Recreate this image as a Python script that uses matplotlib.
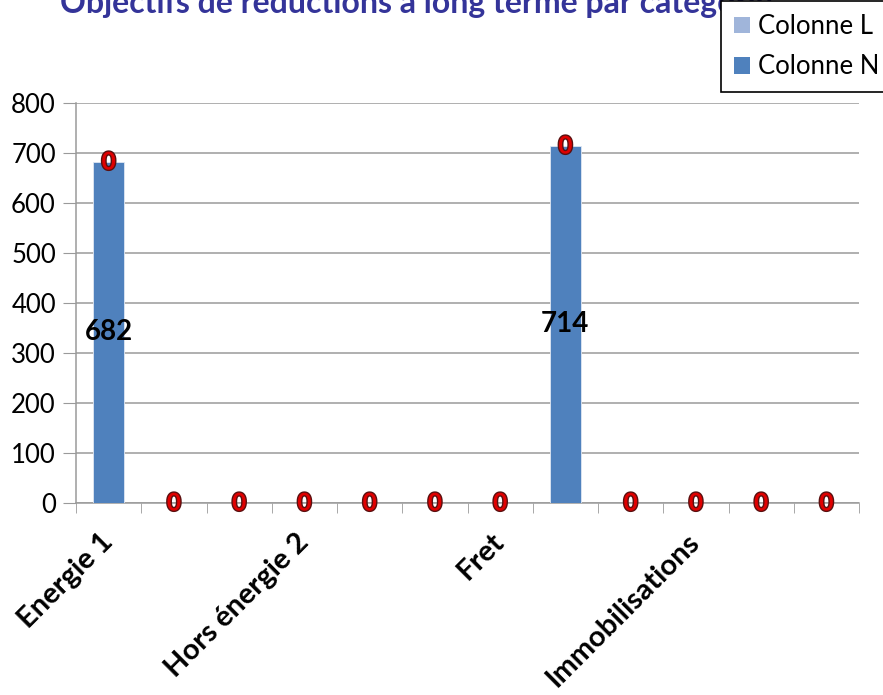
import matplotlib
matplotlib.use("Agg")

import matplotlib.pyplot as plt
import matplotlib.patheffects as pe
from matplotlib.patches import Patch
import numpy as np

plt.rcParams["font.family"] = ["Lato", "DejaVu Sans"]

# ---------------------------------------------------------------------------
# Data
# ---------------------------------------------------------------------------
TITLE = "Objectifs de réductions à long terme par catégorie"
N_CATS = 12
TICK_LABELS = ["Energie 1", "", "", "Hors énergie 2", "", "",
               "Fret", "", "", "Immobilisations", "", ""]
COLONNE_N = [682, 0, 0, 0, 0, 0, 0, 714, 0, 0, 0, 0]
COLONNE_L = [0, 0, 0, 0, 0, 0, 0, 0, 0, 0, 0, 0]
Y_TICKS = [0, 100, 200, 300, 400, 500, 600, 700, 800]

COLOR_N = "#4F81BD"
COLOR_L = "#A0B5DA"
COLOR_GRID = "#9A9A9A"
COLOR_TITLE = "#343499"

fig = plt.figure(figsize=(8.83, 6.95), dpi=100)
ax = fig.add_axes([76 / 883, 1 - 503 / 695, (859 - 76) / 883, 400 / 695])

x = np.arange(N_CATS)
n = np.array(COLONNE_N, dtype=float)
l = np.array(COLONNE_L, dtype=float)

ax.bar(x, n, width=0.48, color=COLOR_N, edgecolor="#dfe7f3",
       linewidth=0.6, zorder=3)
ax.bar(x, l, width=0.48, bottom=n, color=COLOR_L, zorder=3)

# centre labels of Colonne N (black, bold)
for xi, v in zip(x, n):
    if v > 0:
        ax.text(xi, v / 2, f"{v:.0f}", ha="center", va="center",
                fontsize=20, fontweight="bold", color="black", zorder=5)

# centre labels of Colonne L (red with dark outline), stacked on top of N
for xi, base, v in zip(x, n, l):
    ax.text(xi, base + v / 2, f"{v:.0f}", ha="center", va="center",
            fontsize=17.5, fontweight="bold", color="#E00000", zorder=6,
            path_effects=[pe.withStroke(linewidth=2.0, foreground="#5a1010")])

ax.set_xlim(-0.5, N_CATS - 0.5)
ax.set_ylim(0, 800)
ax.set_yticks(Y_TICKS)
ax.tick_params(axis="y", labelsize=18.5, length=9.5, color=COLOR_GRID, pad=5)
ax.yaxis.grid(True, color=COLOR_GRID, lw=1.1, zorder=0)
ax.set_axisbelow(True)

# category ticks at boundaries, labels at centres
ax.set_xticks(np.arange(-0.5, N_CATS, 1.0), minor=True)
ax.set_xticks(x)
ax.set_xticklabels(TICK_LABELS, rotation=45, ha="right", va="center",
                   rotation_mode="anchor", fontsize=21, fontweight="bold")
ax.tick_params(axis="x", which="major", length=0, pad=25)
ax.tick_params(axis="x", which="minor", length=7.5, color=COLOR_GRID)

for side in ("top", "right"):
    ax.spines[side].set_visible(False)
for side in ("left", "bottom"):
    ax.spines[side].set_color(COLOR_GRID)
    ax.spines[side].set_linewidth(1.1)

fig.text(60 / 883, 1 - 13 / 695, TITLE, ha="left", va="baseline",
         fontsize=23, fontweight="bold", color=COLOR_TITLE, zorder=1)

handles = [Patch(facecolor=COLOR_L), Patch(facecolor=COLOR_N)]
leg = fig.legend(handles, ["Colonne L", "Colonne N"],
                 loc="lower left", bbox_to_anchor=(721 / 883, 1 - 92 / 695),
                 fontsize=18.5, frameon=True, fancybox=False, framealpha=1,
                 edgecolor="black", borderaxespad=0, handlelength=0.62,
                 handleheight=0.62, handletextpad=0.32, labelspacing=0.6,
                 borderpad=0.49)
leg.get_frame().set_linewidth(1.2)
leg.set_zorder(10)

fig.savefig("out.png", dpi=100)
